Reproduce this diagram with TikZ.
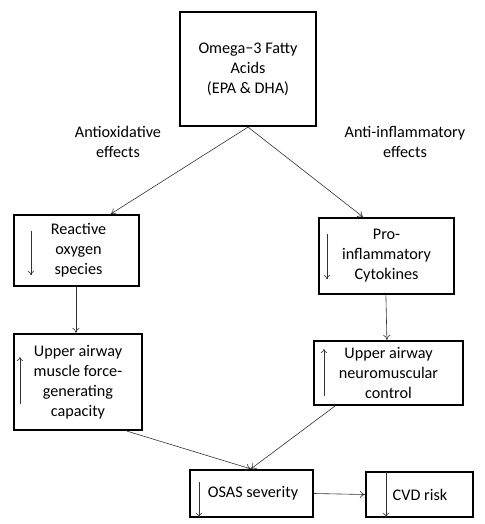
\documentclass[tikz,border=0pt]{standalone}
\usepackage{fontspec}
\setmainfont{Carlito}
\usetikzlibrary{arrows.meta}
\begin{document}
\begin{tikzpicture}[x=1pt,y=-1pt,
  box/.style={draw=black, line width=2.2pt, align=center, inner sep=0pt, font=\fontsize{16.2}{20}\selectfont},
  lbl/.style={align=center, inner sep=0pt, font=\fontsize{16.2}{20}\selectfont},
  conn/.style={draw=black!80, line width=0.6pt, -{To[length=5pt,width=7pt]}},
  inarr/.style={draw=black!80, line width=0.6pt, -{To[length=4pt,width=6pt]}}]
\useasboundingbox (0,0) rectangle (484,524);
\fill[white] (0,0) rectangle (484,524);

\node[box, minimum width=136pt, minimum height=114pt] (omega) at (248,69) {Omega−3 Fatty\\Acids\\(EPA \& DHA)};
\node[lbl] (lab1) at (118,142) {Antioxidative\\effects};
\node[lbl] (lab2) at (405,142) {Anti-inflammatory\\effects};

\node[box, minimum width=125pt, minimum height=71pt] (ros) at (76.5,250.5) {\hspace*{4pt}Reactive\\\hspace*{4pt}oxygen\\\hspace*{4pt}species};
\node[box, minimum width=135pt, minimum height=76pt] (pro) at (386.5,256) {Pro-\\inflammatory\\Cytokines};
\node[box, minimum width=128pt, minimum height=96pt] (musc) at (78,382) {Upper airway\\muscle force-\\generating\\capacity};
\node[box, minimum width=149pt, minimum height=64pt] (neuro) at (388.5,373) {Upper airway\\neuromuscular\\control};
\node[box, minimum width=123pt, minimum height=47pt] (osas) at (251.5,493.5) {\hspace*{3pt}OSAS severity};
\node[box, minimum width=107pt, minimum height=45pt] (cvd) at (419.5,494.5) {\hspace*{1pt}CVD risk};

% inner arrows
\draw[inarr] ([xshift=18pt,yshift=-17pt]ros.north west) -- ([xshift=18pt,yshift=12pt]ros.south west);
\draw[inarr] ([xshift=9pt,yshift=-17pt]pro.north west) -- ([xshift=9pt,yshift=16pt]pro.south west);
\draw[inarr] ([xshift=7pt,yshift=27pt]musc.south west) -- ([xshift=7pt,yshift=-24pt]musc.north west);
\draw[inarr] ([xshift=11pt,yshift=10pt]neuro.south west) -- ([xshift=11pt,yshift=-9pt]neuro.north west);
\draw[inarr] ([xshift=10pt,yshift=-13pt]osas.north west) -- ([xshift=10pt,yshift=1pt]osas.south west);
\draw[inarr] ([xshift=21pt,yshift=-1pt]cvd.north west) -- ([xshift=21pt,yshift=1pt]cvd.south west);

% connectors
\draw[conn] (omega.south) -- ([xshift=98pt]ros.north west);
\draw[conn] (omega.south) -- ([xshift=45pt]pro.north west);
\draw[conn] ([xshift=63pt]ros.south west) -- ([xshift=63pt]musc.north west);
\draw[conn] ([xshift=68pt]pro.south west) -- ([xshift=74pt]neuro.north west);
\draw[conn] ([xshift=114pt]musc.south west) -- ([xshift=62pt]osas.north west);
\draw[conn] ([xshift=22pt]neuro.south west) -- ([xshift=62pt]osas.north west);
\draw[conn] (osas.east) -- (cvd.west);
\end{tikzpicture}
\end{document}
